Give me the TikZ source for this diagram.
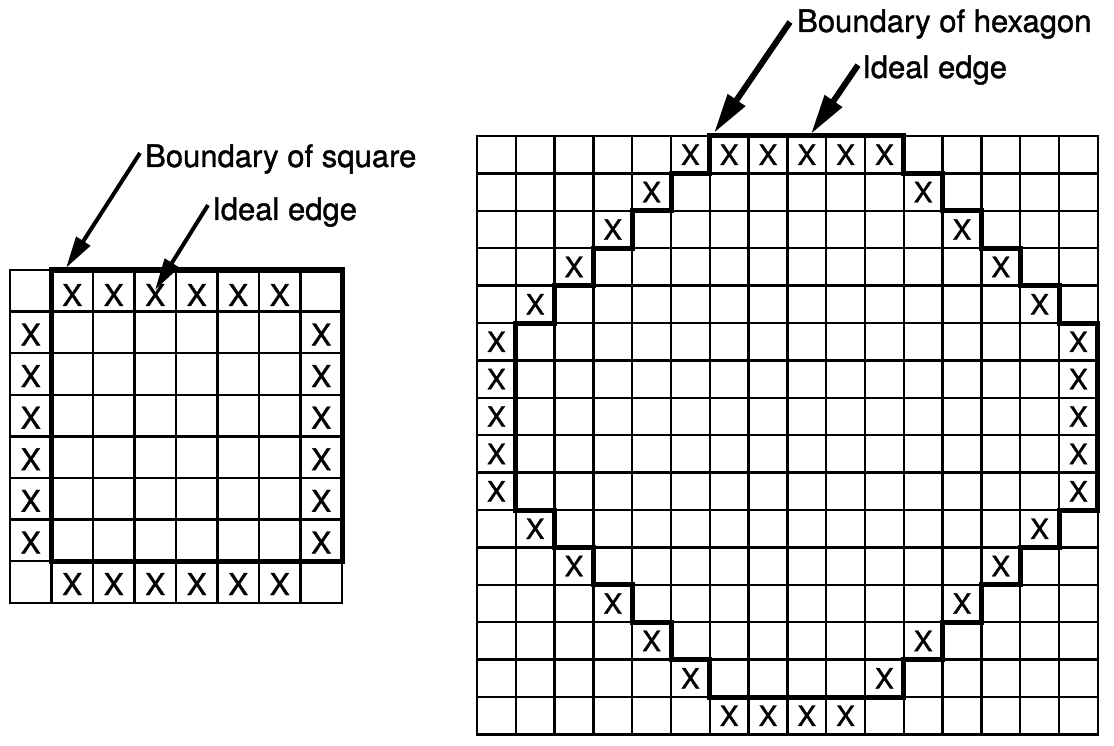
\documentclass[tikz,border=0pt]{standalone}
\usepackage{fontspec}
\setmainfont[FakeBold=1.2]{TeX Gyre Heros}
\usetikzlibrary{arrows.meta}

\begin{document}
\begin{tikzpicture}[
  x=1pt, y=-1pt,
  every node/.style={inner sep=0pt},
  cell/.style={line width=2.4pt, line cap=rect},
  bnd/.style={line width=5pt, line join=miter},
  lbl/.style={anchor=base west, font=\fontsize{31}{31}\selectfont},
  xmark/.style={font=\fontsize{30}{30}\selectfont},
  xmarkH/.style={font=\fontsize{28}{28}\selectfont},
  arr/.style={-{Triangle[length=32pt,width=16pt]}, line width=4pt},
  arrH/.style={-{Triangle[length=40pt,width=20pt]}, line width=6pt}
]
\useasboundingbox (0,0) rectangle (1114,746);

% ---- Left grid: square ----
\begin{scope}[shift={(10,270)}, x=41.5pt, y=-41.6pt]
  \foreach \i in {0,...,8} {
    \draw[cell] (\i,0) -- (\i,8);
    \draw[cell] (0,\i) -- (8,\i);
  }
  \foreach \c in {1,...,6} {
    \node[xmark] (sqT\c) at (\c+0.5,0.6) {X};
    \node[xmark] (sqB\c) at (\c+0.5,7.55) {X};
  }
  \foreach \r in {1,...,6} {
    \node[xmark] (sqL\r) at (0.5,\r+0.55) {X};
    \node[xmark] (sqR\r) at (7.5,\r+0.55) {X};
  }
  \draw[bnd] (1,0) rectangle (8,7);
\end{scope}

% ---- Right grid: hexagon ----
\begin{scope}[shift={(477,136)}, x=38.8pt, y=-37.4pt]
  \foreach \i in {0,...,16} {
    \draw[cell] (\i,0) -- (\i,16);
    \draw[cell] (0,\i) -- (16,\i);
  }
  \foreach \c/\r [count=\k] in {5/0,6/0,7/0,8/0,9/0,10/0,
      4/1,11/1, 3/2,12/2, 2/3,13/3, 1/4,14/4,
      0/5,15/5, 0/6,15/6, 0/7,15/7, 0/8,15/8, 0/9,15/9,
      1/10,14/10, 2/11,13/11, 3/12,12/12, 4/13,11/13, 5/14,10/14,
      6/15,7/15,8/15,9/15}
    \node[xmarkH] (hx\k) at (\c+0.5,\r+0.5) {X};
  \draw[bnd] (6,0) -- (11,0) -- (11,1) -- (12,1) -- (12,2) -- (13,2) -- (13,3)
    -- (14,3) -- (14,4) -- (15,4) -- (15,5) -- (16,5) -- (16,10) -- (15,10)
    -- (15,11) -- (14,11) -- (14,12) -- (13,12) -- (13,13) -- (12,13)
    -- (12,14) -- (11,14) -- (11,15) -- (6,15) -- (6,14) -- (5,14) -- (5,13)
    -- (4,13) -- (4,12) -- (3,12) -- (3,11) -- (2,11) -- (2,10) -- (1,10)
    -- (1,5) -- (2,5) -- (2,4) -- (3,4) -- (3,3) -- (4,3) -- (4,2) -- (5,2)
    -- (5,1) -- (6,1) -- cycle;
\end{scope}

% ---- Labels ----
\node[lbl] (Lsq) at (145,167) {Boundary of square};
\node[lbl] (LsqEdge) at (212,220) {Ideal edge};
\node[lbl] (Lhex) at (797,32) {Boundary of hexagon};
\node[lbl] (LhexEdge) at (862,78) {Ideal edge};

% ---- Pointers ----
\coordinate (tipSq) at (66,268);
\coordinate (tipSqEdge) at (155,290);
\coordinate (tipHex) at (714,133);
\coordinate (tipHexEdge) at (811,134);
\draw[arr] ([xshift=-5pt,yshift=6pt]Lsq.west) -- (tipSq);
\draw[arr] ([xshift=-4pt,yshift=7pt]LsqEdge.west) -- (tipSqEdge);
\draw[arrH] ([xshift=-7pt,yshift=2pt]Lhex.west) -- (tipHex);
\draw[arrH] ([xshift=-4pt,yshift=5pt]LhexEdge.west) -- (tipHexEdge);

\end{tikzpicture}
\end{document}
